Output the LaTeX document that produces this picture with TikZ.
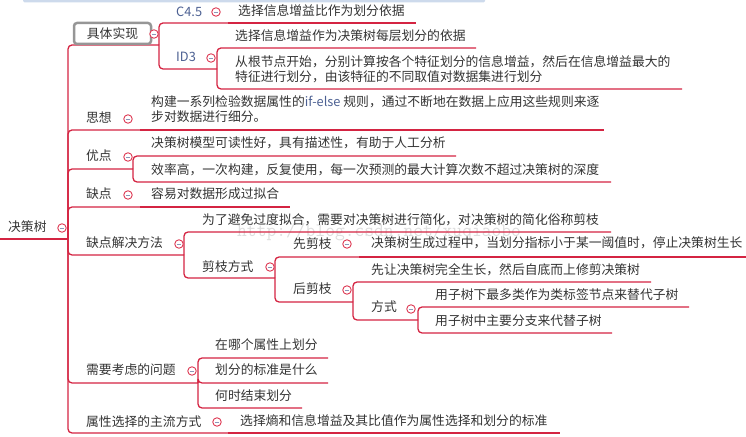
\documentclass[tikz,border=0pt]{standalone}
\usepackage{fontspec}
\newfontfamily\cjk{Noto Sans CJK SC}
\definecolor{linkred}{RGB}{212,36,66}
\definecolor{foldred}{RGB}{222,60,86}
\definecolor{minusblue}{RGB}{140,150,185}
\definecolor{textgray}{RGB}{51,51,51}
\definecolor{latinblue}{RGB}{76,96,146}
\definecolor{boxgray}{RGB}{150,150,150}
\definecolor{barblue}{RGB}{205,218,236}
\definecolor{markgray}{RGB}{222,222,222}
\tikzset{
  topic/.style={anchor=west,inner sep=0pt,align=left,text=textgray,
    font=\cjk\fontsize{12.8bp}{15bp}\selectfont},
  link/.style={draw=linkred,line width=1.3bp,rounded corners=4bp},
  fold/.style={circle,draw=foldred,fill=white,line width=0.9bp,
    minimum size=8.5bp,inner sep=0pt,
    path picture={\draw[minusblue,line width=0.8bp]
      ([xshift=-2.2bp]path picture bounding box.center) --
      ([xshift=2.2bp]path picture bounding box.center);}},
}
\begin{document}
\begin{tikzpicture}[line join=bevel]
    \useasboundingbox (0bp,0bp) rectangle (746bp,437bp);
    %%
    \fill [barblue,rounded corners=1.5bp] (23bp,434.5bp) rectangle (485bp,439bp);
    \node (wm) at (237bp,205bp) [anchor=west,inner sep=0pt,text=markgray,font=\ttfamily\fontsize{19bp}{19bp}\selectfont] {http://blog.csdn.net/xuqiaobo};
    %
    \coordinate (treeW) at (0bp,198bp);
    \coordinate (treeJ) at (68bp,198bp);
    \coordinate (implJ) at (159bp,392bp);
    \coordinate (c45J) at (228bp,414bp);
    \coordinate (c45tE) at (416bp,414bp);
    \coordinate (id3J) at (217bp,368bp);
    \coordinate (id3aE) at (476bp,389bp);
    \coordinate (id3bE) at (682bp,348bp);
    \coordinate (ideaJ) at (140bp,307bp);
    \coordinate (ideatE) at (604bp,307bp);
    \coordinate (proJ) at (133bp,268bp);
    \coordinate (proaE) at (456bp,281bp);
    \coordinate (probE) at (611bp,255bp);
    \coordinate (conJ) at (140bp,230bp);
    \coordinate (contE) at (290bp,230bp);
    \coordinate (fixJ) at (184bp,182bp);
    \coordinate (fixaE) at (611bp,205bp);
    \coordinate (pruneJ) at (275bp,159bp);
    \coordinate (preJ) at (359bp,180bp);
    \coordinate (pretE) at (746bp,180bp);
    \coordinate (postJ) at (353bp,135bp);
    \coordinate (postaE) at (651bp,155bp);
    \coordinate (wayJ) at (418bp,117bp);
    \coordinate (wayaE) at (689bp,130bp);
    \coordinate (waybE) at (612bp,104bp);
    \coordinate (issueJ) at (198bp,54bp);
    \coordinate (issaE) at (328bp,79bp);
    \coordinate (issbE) at (328bp,54bp);
    \coordinate (isscE) at (302bp,29bp);
    \coordinate (attrJ) at (228bp,4bp);
    \coordinate (attrtE) at (560bp,4bp);
    %
    \draw [link] (treeW) -- (treeJ);
    \draw [link] (treeJ) |- (implJ);
    \draw [link] (treeJ) |- (ideaJ);
    \draw [link] (treeJ) |- (proJ);
    \draw [link] (treeJ) |- (conJ);
    \draw [link] (treeJ) |- (fixJ);
    \draw [link] (treeJ) |- (issueJ);
    \draw [link] (treeJ) |- (attrJ);
    \draw [link] (implJ) |- (c45J);
    \draw [link] (c45J) -- (c45tE);
    \draw [link] (implJ) |- (id3J);
    \draw [link] (id3J) |- (id3aE);
    \draw [link] (id3J) |- (id3bE);
    \draw [link] (ideaJ) -- (ideatE);
    \draw [link] (proJ) |- (proaE);
    \draw [link] (proJ) |- (probE);
    \draw [link] (conJ) -- (contE);
    \draw [link] (fixJ) |- (fixaE);
    \draw [link] (fixJ) |- (pruneJ);
    \draw [link] (pruneJ) |- (preJ);
    \draw [link] (preJ) -- (pretE);
    \draw [link] (pruneJ) |- (postJ);
    \draw [link] (postJ) |- (postaE);
    \draw [link] (postJ) |- (wayJ);
    \draw [link] (wayJ) |- (wayaE);
    \draw [link] (wayJ) |- (waybE);
    \draw [link] (issueJ) |- (issaE);
    \draw [link] (issueJ) |- (issbE);
    \draw [link] (issueJ) |- (isscE);
    \draw [link] (attrJ) -- (attrtE);
    %
    \node (tree) at (8bp,210bp) [topic] {决策树};
    \node (impl) at (112.5bp,403.5bp) [topic,anchor=center,draw=boxgray,line width=2.5bp,fill=white,rounded corners=3bp,minimum width=77bp,minimum height=21bp] {具体实现};
    \node (c45) at (176bp,425bp) [topic,text=latinblue] {C4.5};
    \node (c45t) at (238bp,426bp) [topic] {选择信息增益比作为划分依据};
    \node (id3) at (176bp,380bp) [topic,text=latinblue] {ID3};
    \node (id3a) at (235bp,401bp) [topic] {选择信息增益作为决策树每层划分的依据};
    \node (id3b) at (235bp,367.5bp) [topic] {从根节点开始，分别计算按各个特征划分的信息增益，然后在信息增益最大的\\特征进行划分，由该特征的不同取值对数据集进行划分};
    \node (idea) at (86bp,319bp) [topic] {思想};
    \node (ideat) at (151bp,327.5bp) [topic] {构建一系列检验数据属性的\textcolor{latinblue}{if-else} 规则，通过不断地在数据上应用这些规则来逐\\步对数据进行细分。};
    \node (pro) at (86bp,281bp) [topic] {优点};
    \node (proa) at (151bp,294bp) [topic] {决策树模型可读性好，具有描述性，有助于人工分析};
    \node (prob) at (151bp,267bp) [topic] {效率高，一次构建，反复使用，每一次预测的最大计算次数不超过决策树的深度};
    \node (con) at (86bp,243bp) [topic] {缺点};
    \node (cont) at (151bp,243bp) [topic] {容易对数据形成过拟合};
    \node (fix) at (86bp,194bp) [topic] {缺点解决方法};
    \node (fixa) at (202bp,217bp) [topic] {为了避免过度拟合，需要对决策树进行简化，对决策树的简化俗称剪枝};
    \node (prune) at (202bp,170bp) [topic] {剪枝方式};
    \node (pre) at (293bp,193bp) [topic] {先剪枝};
    \node (pret) at (371bp,194bp) [topic] {决策树生成过程中，当划分指标小于某一阈值时，停止决策树生长};
    \node (post) at (293bp,148bp) [topic] {后剪枝};
    \node (posta) at (371bp,167bp) [topic] {先让决策树完全生长，然后自底而上修剪决策树};
    \node (way) at (371bp,130bp) [topic] {方式};
    \node (waya) at (435bp,142bp) [topic] {用子树下最多类作为类标签节点来替代子树};
    \node (wayb) at (435bp,116bp) [topic] {用子树中主要分支来代替子树};
    \node (issue) at (86bp,67bp) [topic] {需要考虑的问题};
    \node (issa) at (215bp,92bp) [topic] {在哪个属性上划分};
    \node (issb) at (215bp,67bp) [topic] {划分的标准是什么};
    \node (issc) at (215bp,41bp) [topic] {何时结束划分};
    \node (attr) at (86bp,15bp) [topic] {属性选择的主流方式};
    \node (attrt) at (240bp,16bp) [topic] {选择熵和信息增益及其比值作为属性选择和划分的标准};
    %
    \node (treeF) at (62bp,209bp) [fold] {};
    \node (implF) at (154bp,403bp) [fold] {};
    \node (c45F) at (216bp,425bp) [fold] {};
    \node (id3F) at (211bp,379bp) [fold] {};
    \node (ideaF) at (128bp,318bp) [fold] {};
    \node (proF) at (128bp,280bp) [fold] {};
    \node (conF) at (128bp,242bp) [fold] {};
    \node (fixF) at (179bp,193bp) [fold] {};
    \node (pruneF) at (270bp,170bp) [fold] {};
    \node (preF) at (347bp,193bp) [fold] {};
    \node (postF) at (347bp,147bp) [fold] {};
    \node (wayF) at (411bp,128bp) [fold] {};
    \node (issueF) at (192bp,66bp) [fold] {};
    \node (attrF) at (217bp,15bp) [fold] {};
    %
\end{tikzpicture}
\end{document}
